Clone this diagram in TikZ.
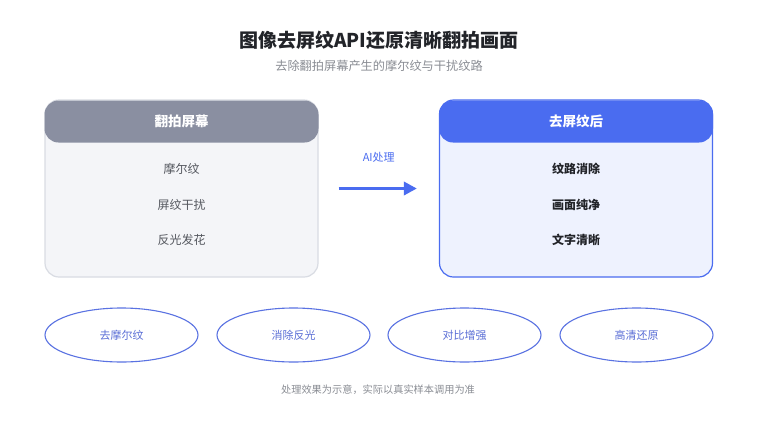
\documentclass[tikz,border=0pt]{standalone}
\usepackage{fontspec}
\setmainfont{Noto Sans CJK SC}
\usetikzlibrary{arrows.meta,positioning,shapes.geometric}

\definecolor{inkdark}{HTML}{222429}
\definecolor{inkgrey}{HTML}{8A8D94}
\definecolor{itemgrey}{HTML}{55585F}
\definecolor{headgrey}{HTML}{8A8FA1}
\definecolor{bodygrey}{HTML}{F4F5F8}
\definecolor{linegrey}{HTML}{D9DCE3}
\definecolor{mainblue}{HTML}{4A6CF0}
\definecolor{bodyblue}{HTML}{EEF2FE}
\definecolor{pillline}{HTML}{5A72E2}
\definecolor{pilltext}{HTML}{5A6ED6}

\tikzset{
    card/.style={rounded corners=14pt, line width=1.2pt, minimum width=273pt, minimum height=177pt},
    cardhead/.style={rounded corners=14pt, minimum width=274pt, minimum height=42pt, text=white,
        font=\fontsize{13.5}{16}\selectfont\bfseries},
    item/.style={font=\fontsize{12}{14}\selectfont},
    pill/.style={ellipse, draw=pillline, line width=1.1pt, minimum width=153pt, minimum height=54pt,
        text=pilltext, font=\fontsize{11}{13}\selectfont},
    flow/.style={-{Triangle[length=13pt,width=13pt]}, line width=3.5pt, draw=mainblue}
}

\begin{document}
\begin{tikzpicture}[x=1pt,y=-1pt]
    \useasboundingbox[fill=white] (0,0) rectangle (758,421);

    %%%% Title =====================================
    \node[font=\fontsize{19}{23}\selectfont\bfseries, text=inkdark] (title) at (379, 40) {图像去屏纹API还原清晰翻拍画面};
    \node[font=\fontsize{12.2}{15}\selectfont, text=inkgrey] (subtitle) at (379, 66) {去除翻拍屏幕产生的摩尔纹与干扰纹路};

    %%%% Before ====================================
    \node[card, fill=bodygrey, draw=linegrey] (before) at (181.5, 188.5) {};
    \node[cardhead, fill=headgrey] (beforehead) at (181.5, 121.5) {翻拍屏幕};
    \node[item, text=itemgrey] (b1) at (181.5, 169) {摩尔纹};
    \node[item, text=itemgrey] (b2) at (181.5, 204.5) {屏纹干扰};
    \node[item, text=itemgrey] (b3) at (181.5, 240) {反光发花};

    %%%% After =====================================
    \node[card, fill=bodyblue, draw=mainblue] (after) at (576, 188.5) {};
    \node[cardhead, fill=mainblue] (afterhead) at (576, 121.5) {去屏纹后};
    \node[item, text=inkdark, font=\fontsize{12}{14}\selectfont\bfseries] (a1) at (576, 169) {纹路消除};
    \node[item, text=inkdark, font=\fontsize{12}{14}\selectfont\bfseries] (a2) at (576, 204.5) {画面纯净};
    \node[item, text=inkdark, font=\fontsize{12}{14}\selectfont\bfseries] (a3) at (576, 240) {文字清晰};

    %%%% Arrow =====================================
    \draw[flow, shorten <=20pt, shorten >=22pt] (before) -- node[above=21pt, text=mainblue,
        font=\fontsize{11}{13}\selectfont] (ailabel) {AI处理} (after);

    %%%% Features ==================================
    \node[pill] (p1) at (121.5, 335) {去摩尔纹};
    \node[pill] (p2) at (293.5, 335) {消除反光};
    \node[pill] (p3) at (464.5, 335) {对比增强};
    \node[pill] (p4) at (636.5, 335) {高清还原};

    %%%% Footer ====================================
    \node[font=\fontsize{10.2}{13}\selectfont, text=inkgrey] (footer) at (378, 390) {处理效果为示意，实际以真实样本调用为准};
\end{tikzpicture}
\end{document}
